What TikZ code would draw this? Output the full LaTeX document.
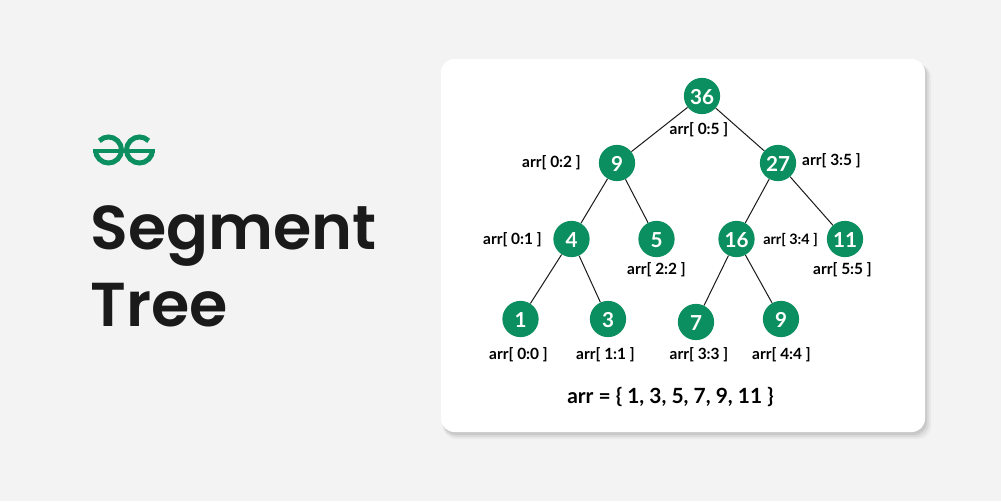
\documentclass[tikz,border=0pt]{standalone}
\usepackage{fontspec}
\setmainfont{Lato}
\newfontfamily\titlefont{Poppins SemiBold}
\definecolor{gfg}{HTML}{0C8F60}
\definecolor{bgc}{HTML}{F3F3F3}
\definecolor{ink}{HTML}{1A1A1A}
\tikzset{
  x=0.75pt,y=-0.75pt,
  tn/.style={circle,fill=gfg,text=white,minimum size=27.2pt,inner sep=0pt,text height=12.2pt,text depth=0pt,font=\fontsize{15.5}{16}\selectfont\bfseries},
  lb/.style={font=\fontsize{11.6}{12}\selectfont\bfseries,text=black,inner sep=0pt},
  edge/.style={draw=ink,line width=0.75pt},
  logo/.style={draw=gfg,line width=3.75pt}
}
\begin{document}
\begin{tikzpicture}
\useasboundingbox (0,0) rectangle (1001,501);
\fill[bgc] (0,0) rectangle (1001,501);
% card
\fill[black,opacity=.04,rounded corners=10pt] (443,64) rectangle (931,439);
\fill[black,opacity=.06,rounded corners=10pt] (443,63) rectangle (929,437);
\fill[black,opacity=.08,rounded corners=10pt] (443,62) rectangle (927,435);
\fill[white,rounded corners=10pt] (441,59) rectangle (925,432);
% logo
\draw[logo] (99.3,140.8) arc[start angle=225,end angle=540,radius=13];
\draw[logo] (148.7,140.8) arc[start angle=-45,end angle=-360,radius=13];
\draw[gfg,line width=3.6pt] (93,151) -- (155,151);
% title
\node[anchor=base west,inner sep=0pt,text=ink,font=\titlefont\fontsize{46.5}{50}\selectfont] (t1) at (90,249.5) {Segment};
\node[anchor=base west,inner sep=0pt,text=ink,font=\titlefont\fontsize{46.5}{50}\selectfont] (t2) at (90,326) {Tree};
% tree
\node[tn] (a) at (702,96) {36};
\node[tn] (b) at (617,163) {9};
\node[tn] (c) at (778,163) {27};
\node[tn] (d) at (571.5,239) {4};
\node[tn] (e) at (656.5,239) {5};
\node[tn] (f) at (736.5,239) {16};
\node[tn] (g) at (845,239) {11};
\node[tn] (h) at (520.5,319) {1};
\node[tn] (i) at (608,319) {3};
\node[tn] (j) at (696,322) {7};
\node[tn] (k) at (781,319) {9};
\draw[edge] (a)--(b);
\draw[edge] (a)--(c);
\draw[edge] (b)--(d);
\draw[edge] (b)--(e);
\draw[edge] (c)--(f);
\draw[edge] (c)--(g);
\draw[edge] (d)--(h);
\draw[edge] (d)--(i);
\draw[edge] (f)--(j);
\draw[edge] (f)--(k);
\node[lb] (l1) at (699,130) {arr[ 0:5 ]};
\node[lb] (l2) at (551.5,162.5) {arr[ 0:2 ]};
\node[lb] (l3) at (831.5,160.5) {arr[ 3:5 ]};
\node[lb] (l4) at (512.5,239.5) {arr[ 0:1 ]};
\node[lb,font=\fontsize{10.8}{12}\selectfont\bfseries] (l5) at (790.5,240.5) {arr[ 3:4 ]};
\node[lb] (l6) at (656.5,270) {arr[ 2:2 ]};
\node[lb] (l7) at (842.5,270) {arr[ 5:5 ]};
\node[lb] (l8) at (518.5,355) {arr[ 0:0 ]};
\node[lb] (l9) at (605.5,355) {arr[ 1:1 ]};
\node[lb] (l10) at (699,355) {arr[ 3:3 ]};
\node[lb] (l11) at (781.5,355) {arr[ 4:4 ]};
\node[font=\fontsize{15.7}{18}\selectfont\bfseries,text=black,inner sep=0pt] (cap) at (670.5,397) {arr = \{ 1, 3, 5, 7, 9, 11 \}};
\end{tikzpicture}
\end{document}
